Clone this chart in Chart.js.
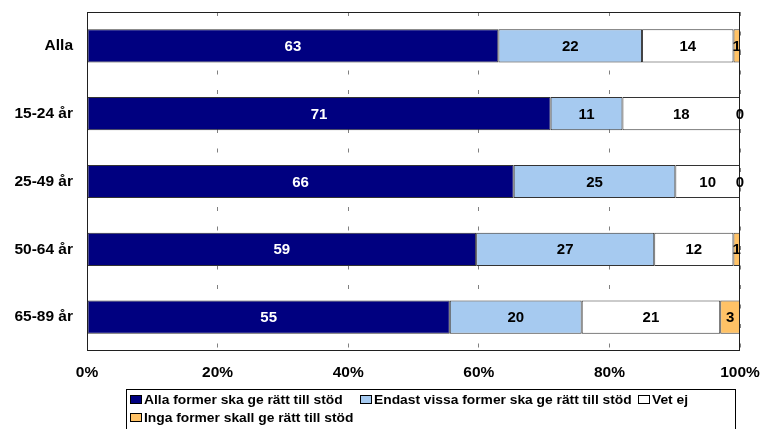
<!DOCTYPE html>
<html>
<head>
<meta charset="utf-8">
<script src="https://cdn.jsdelivr.net/npm/chart.js@4"></script>
<style>
html,body{margin:0;padding:0;background:#fff;}
#c{display:block;}
</style>
</head>
<body>
<canvas id="c" width="763" height="429"></canvas>
<script>
const categories = ['Alla', '15-24 år', '25-49 år', '50-64 år', '65-89 år'];
const seriesNames = [
  'Alla former ska ge rätt till stöd',
  'Endast vissa former ska ge rätt till stöd',
  'Vet ej',
  'Inga former skall ge rätt till stöd'
];
const allaFormer = [63, 71, 66, 59, 55];
const endastVissa = [22, 11, 25, 27, 20];
const vetEj = [14, 18, 10, 12, 21];
const ingaFormer = [1, 0, 0, 1, 3];
const tickLabels = ['0%', '20%', '40%', '60%', '80%', '100%'];

const seriesValues = [allaFormer, endastVissa, vetEj, ingaFormer];
const colors = ['#000080', '#A6CAF0', '#FFFFFF', '#FFC266'];
const labelColors = ['#FFFFFF', '#000000', '#000000', '#000000'];

const totals = categories.map((_, i) => seriesValues.reduce((s, arr) => s + arr[i], 0));

const FONT = '"Liberation Sans", Arial, sans-serif';

const datasets = seriesValues.map((vals, k) => ({
  label: seriesNames[k],
  data: vals.map((v, i) => v / totals[i] * 100),
  raw: vals,
  backgroundColor: colors[k],
  borderColor: '#333333',
  borderWidth: 1,
  borderSkipped: false,
  barPercentage: 1.0,
  categoryPercentage: 0.49
}));

function zeroPad(scale) {
  scale.paddingLeft = 0;
  scale.paddingRight = 0;
  scale.paddingTop = 0;
  scale.paddingBottom = 0;
}

const labelsPlugin = {
  id: 'valueLabels',
  afterDatasetsDraw(chart) {
    const ctx = chart.ctx;
    const a = chart.chartArea;
    ctx.save();
    // plot frame
    ctx.strokeStyle = '#202020';
    ctx.lineWidth = 1;
    ctx.strokeRect(Math.round(a.left) + 0.5, Math.round(a.top) + 0.5,
      Math.round(a.right - a.left) - 1, Math.round(a.bottom - a.top) - 1);
    // value labels
    ctx.font = 'bold 15px ' + FONT;
    ctx.textAlign = 'center';
    ctx.textBaseline = 'middle';
    chart.data.datasets.forEach((ds, k) => {
      const meta = chart.getDatasetMeta(k);
      meta.data.forEach((el, i) => {
        const cx = (el.x + el.base) / 2;
        ctx.fillStyle = labelColors[k];
        ctx.fillText(String(ds.raw[i]), cx, el.y + 1);
      });
    });
    ctx.restore();
  },
  afterDraw(chart) {
    const ctx = chart.ctx;
    ctx.save();
    // legend box
    ctx.strokeStyle = '#000000';
    ctx.lineWidth = 1;
    ctx.strokeRect(126.5, 389.5, 609, 60);
    ctx.font = 'bold 12px ' + FONT;
    ctx.textBaseline = 'middle';
    ctx.textAlign = 'left';
    const items = [
      {k: 0, x: 130, y: 400},
      {k: 1, x: 360, y: 400},
      {k: 2, x: 638, y: 400},
      {k: 3, x: 130, y: 418}
    ];
    items.forEach(it => {
      const ds = chart.data.datasets[it.k];
      ctx.fillStyle = ds.backgroundColor;
      ctx.fillRect(it.x, it.y - 5, 12, 9);
      ctx.strokeStyle = '#000000';
      ctx.strokeRect(it.x + 0.5, it.y - 5 + 0.5, 11, 8);
      ctx.fillStyle = '#000000';
      ctx.save();
      ctx.translate(it.x + 14, it.y + 1);
      ctx.scale(1.15, 1);
      ctx.fillText(ds.label, 0, 0);
      ctx.restore();
    });
    ctx.restore();
  }
};

new Chart(document.getElementById('c'), {
  type: 'bar',
  data: { labels: categories, datasets },
  options: {
    indexAxis: 'y',
    responsive: false,
    animation: false,
    layout: { padding: { left: 0, top: 12, right: 23, bottom: 0 } },
    plugins: {
      legend: { display: false },
      tooltip: { enabled: false }
    },
    scales: {
      x: {
        stacked: true,
        min: 0,
        max: 100,
        afterFit(scale) { scale.height = 78; zeroPad(scale); },
        ticks: {
          stepSize: 20,
          padding: 12,
          color: '#000000',
          font: { family: FONT, size: 15.5, weight: 'bold' },
          callback: (v, idx) => tickLabels[idx]
        },
        grid: {
          drawTicks: false,
          color: '#808080',
          lineWidth: 1
        },
        border: { display: false, dash: [4, 15.5] }
      },
      y: {
        stacked: true,
        afterFit(scale) { scale.width = 87; zeroPad(scale); },
        ticks: {
          padding: 14,
          color: '#000000',
          font: { family: FONT, size: 15.5, weight: 'bold' }
        },
        grid: { display: false, drawTicks: false },
        border: { display: false }
      }
    }
  },
  plugins: [labelsPlugin]
});
</script>
</body>
</html>
